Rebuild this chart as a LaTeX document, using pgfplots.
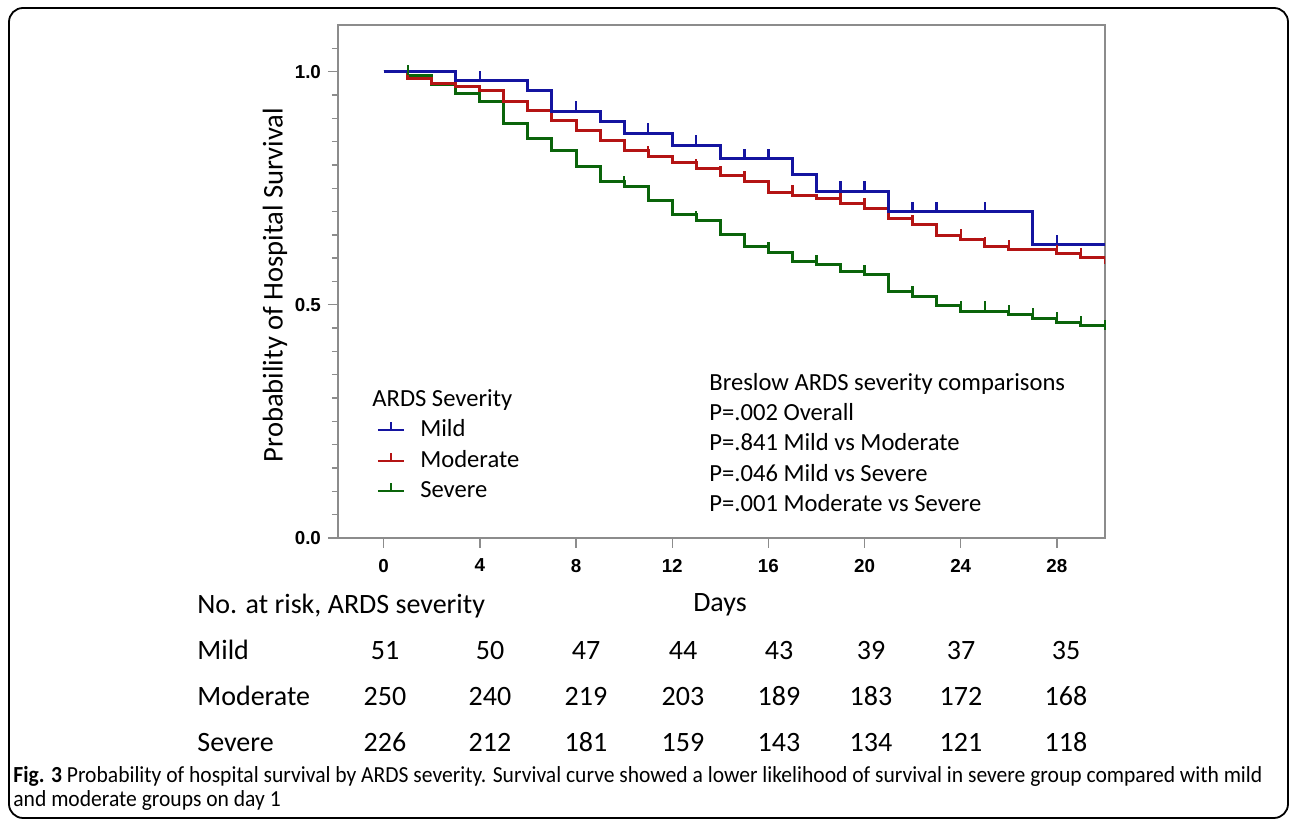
\documentclass[border=0pt]{standalone}
\usepackage{pgfplots}
\pgfplotsset{compat=1.18}
\usepackage{graphicx}
\usepackage{fontspec}
\setmainfont{Carlito}
\newfontfamily\arial{Liberation Sans}
\definecolor{cmild}{RGB}{20,20,160}
\definecolor{cmod}{RGB}{180,20,20}
\definecolor{csev}{RGB}{10,100,10}
\pgfdeclareplotmark{cens}{\pgfpathmoveto{\pgfpointorigin}\pgfpathlineto{\pgfpoint{0pt}{5pt}}\pgfusepathqstroke}
\newsavebox\capA
\newlength\capW
\begin{document}
\sbox\capA{\fontsize{11.5}{13}\selectfont\textbf{Fig. 3} Probability of hospital survival by ARDS severity. Survival curve showed a lower likelihood of survival in severe group compared with mild}%
\setlength\capW{\wd\capA}%
\pgfmathsetmacro\capfac{624.5/\capW}%
\begin{tikzpicture}
\path[use as bounding box] (0,0) rectangle (646pt,411pt);
\draw[line width=0.9pt, rounded corners=7pt] (4.5pt,2pt) rectangle (644pt,407pt);
\begin{axis}[
 at={(169pt,142pt)}, anchor=south west,
 scale only axis, width=383.5pt, height=256.5pt,
 xmin=-1.9, xmax=30, ymin=0, ymax=1.1,
 axis line style={black!45, line width=0.7pt},
 tick style={black!45, line width=0.7pt},
 tick align=outside, xtick pos=bottom, ytick pos=left,
 xtick={0,4,...,28}, ytick={0,0.5,1},
 yticklabels={0.0,0.5,1.0},
 minor y tick num=9,
 extra y ticks={1.05}, extra y tick labels={},
 extra y tick style={major tick length=3pt},
 major tick length=5pt, minor tick length=3pt,
 tick label style={font=\arial\bfseries\fontsize{9.4}{11}\selectfont, text=black},
 xticklabel style={yshift=-2pt},
 /pgf/number format/assume math mode=true,
 ylabel={Probability of Hospital Survival},
 ylabel style={font=\fontsize{14.3}{16}\selectfont, at={(axis description cs:-0.082,0.493)}, anchor=center},
 legend style={draw=none, fill=none, at={(axis description cs:0.050,0.237)}, anchor=north west,
   font=\fontsize{12.3}{14}\selectfont, row sep=1.75pt, inner sep=0pt,
   nodes={inner sep=1pt, text height=9pt, text depth=2.5pt}},
 legend cell align=left,
 reverse legend,
 legend image code/.code={\draw[#1,line width=1pt] (0pt,0pt) -- (13pt,0pt); \draw[#1,line width=1pt] (6.5pt,0pt) -- (6.5pt,4pt); \path (19.5pt,0pt);},
]
\addplot[csev, line width=1.5pt, const plot] table {
0 1.000
1 0.992
2 0.973
3 0.953
4 0.936
5 0.888
6 0.856
7 0.830
8 0.796
9 0.765
10 0.754
11 0.723
12 0.693
13 0.680
14 0.650
15 0.625
16 0.613
17 0.593
18 0.586
19 0.572
20 0.564
21 0.529
22 0.518
23 0.499
24 0.486
26 0.479
27 0.471
28 0.463
29 0.455
30 0.447
};
\addlegendentry{Severe}
\addplot[cmod, line width=1.5pt, const plot] table {
0 1.000
1 0.985
2 0.974
3 0.968
4 0.959
5 0.935
6 0.917
7 0.895
8 0.873
9 0.853
10 0.831
11 0.818
12 0.805
13 0.792
14 0.777
15 0.765
16 0.741
17 0.735
18 0.727
19 0.718
20 0.707
21 0.686
22 0.672
23 0.648
24 0.641
25 0.625
26 0.618
28 0.611
29 0.601
30 0.587
};
\addlegendentry{Moderate}
\addplot[cmild, line width=1.5pt, const plot] table {
0 1.000
3 0.980
6 0.960
7 0.915
9 0.893
10 0.868
12 0.842
14 0.813
17 0.779
18 0.744
21 0.700
27 0.629
30 0.629
};
\addlegendentry{Mild}
\addplot[csev, only marks, mark=cens, line width=1.2pt, forget plot] table {
1 0.992
10 0.754
13 0.680
16 0.613
18 0.586
20 0.564
22 0.518
24 0.486
25 0.486
26 0.479
27 0.471
28 0.463
29 0.455
30 0.447
};
\addplot[cmod, only marks, mark=cens, line width=1.2pt, forget plot] table {
11 0.818
13 0.792
14 0.777
15 0.765
17 0.735
19 0.718
20 0.707
22 0.672
24 0.641
25 0.625
26 0.618
28 0.611
29 0.601
};
\addplot[cmild, only marks, mark=cens, line width=1.2pt, forget plot] table {
4 0.980
8 0.915
11 0.868
13 0.842
15 0.813
16 0.813
19 0.744
20 0.744
22 0.700
23 0.700
25 0.700
28 0.629
};
\end{axis}
\begin{scope}[shift={(0pt,411pt)}, x=0.5pt, y=-0.5pt]
\node[anchor=base west, inner sep=0pt, font=\fontsize{12.3}{14}\selectfont] at (372,407) {ARDS Severity};
\foreach \yy/\tt in {391/Breslow ARDS severity comparisons, 421/{P=.002 Overall}, 451/{P=.841 Mild vs Moderate}, 482/{P=.046 Mild vs Severe}, 512/{P=.001 Moderate vs Severe}}
  \node[anchor=base west, inner sep=0pt, font=\fontsize{12.3}{14}\selectfont] at (709,\yy) {\tt};
\node[anchor=base west, inner sep=0pt, font=\fontsize{14}{16}\selectfont] at (197,614) {No. at risk, ARDS severity};
\node[anchor=base, inner sep=0pt, font=\fontsize{14}{16}\selectfont] at (720,612) {Days};
\node[anchor=base west, inner sep=0pt, font=\fontsize{14}{16}\selectfont] at (197,660) {Mild};
\node[anchor=base west, inner sep=0pt, font=\fontsize{14}{16}\selectfont] at (197,706) {Moderate};
\node[anchor=base west, inner sep=0pt, font=\fontsize{14}{16}\selectfont] at (197,752) {Severe};
\foreach \xx/\a/\b/\c in {385/51/250/226, 490/50/240/212, 586/47/219/181, 683/44/203/159, 779/43/189/143, 871/39/183/134, 961/37/172/121, 1066/35/168/118} {
  \node[anchor=base, inner sep=0pt, font=\fontsize{14}{16}\selectfont] at (\xx,660) {\a};
  \node[anchor=base, inner sep=0pt, font=\fontsize{14}{16}\selectfont] at (\xx,706) {\b};
  \node[anchor=base, inner sep=0pt, font=\fontsize{14}{16}\selectfont] at (\xx,752) {\c};
}
\node[anchor=base west, inner sep=0pt] at (13,783) {\scalebox{\capfac}[1]{\usebox\capA}};
\node[anchor=base west, inner sep=0pt] at (13,807) {\scalebox{\capfac}[1]{\fontsize{11.5}{13}\selectfont and moderate groups on day 1}};
\end{scope}
\end{tikzpicture}
\end{document}
